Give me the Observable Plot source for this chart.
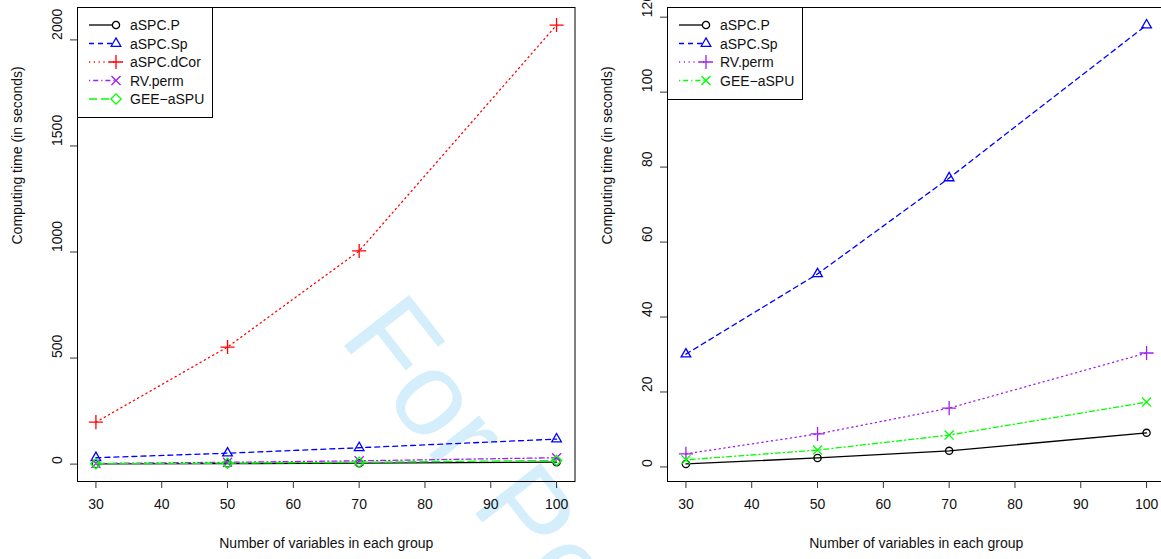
<!DOCTYPE html>
<html>
<head>
<meta charset="utf-8">
<script src="https://cdn.jsdelivr.net/npm/d3@7"></script>
<script src="https://cdn.jsdelivr.net/npm/@observablehq/plot@0.6"></script>
<style>
  html, body { margin: 0; padding: 0; background: #fff; overflow: hidden; }
  #wrap { position: relative; width: 1161px; height: 559px; overflow: hidden; }
  #wm { position: absolute; left: 0; top: 0; }
  .panel { position: absolute; top: 0; width: 580px; height: 559px; }
  .panel svg { max-width: none !important; }
</style>
</head>
<body>
<div id="wrap">
  <svg id="wm" width="1161" height="559"></svg>
  <div id="left" class="panel" style="left:0px"></div>
  <div id="right" class="panel" style="left:590px"></div>
</div>
<script>
// ---- data ----
const xVals = [30, 50, 70, 100];
const xTicks = [30, 40, 50, 60, 70, 80, 90, 100];
const leftYTicks = [0, 500, 1000, 1500, 2000];
const rightYTicks = [0, 20, 40, 60, 80, 100, 120];

const aSPC_P = [0.8, 2.4, 4.3, 9.1];
const aSPC_Sp = [30.1, 51.5, 77.1, 117.9];
const aSPC_dCor = [198, 552, 1005, 2070];
const RV_perm_left = [3.2, 8.5, 15.5, 30];
const GEE_aSPU_left = [1.9, 4.5, 8.5, 17.3];
const RV_perm = [3.5, 8.8, 15.7, 30.4];
const GEE_aSPU = [1.9, 4.5, 8.5, 17.3];

const xLabel = "Number of variables in each group";
const yLabel = "Computing time (in seconds)";

const leftSeries = [
  {name: "aSPC.P", values: aSPC_P, color: "#000000", dash: null, symbol: "circle", r: 3.6},
  {name: "aSPC.Sp", values: aSPC_Sp, color: "#0000FF", dash: "5,4", symbol: "triangle2", r: 4.6},
  {name: "aSPC.dCor", values: aSPC_dCor, color: "#FF0000", dash: "1.2,3.6", symbol: "plus", r: 4.6},
  {name: "RV.perm", values: RV_perm_left, color: "#A020F0", dash: "1.2,3,5,3", symbol: "times", r: 4.2},
  {name: "GEE\u2212aSPU", values: GEE_aSPU_left, color: "#00FF00", dash: "8,4", symbol: "diamond2", r: 4.6}
];
const rightSeries = [
  {name: "aSPC.P", values: aSPC_P, color: "#000000", dash: null, symbol: "circle", r: 3.6},
  {name: "aSPC.Sp", values: aSPC_Sp, color: "#0000FF", dash: "5,4", symbol: "triangle2", r: 4.6},
  {name: "RV.perm", values: RV_perm, color: "#A020F0", dash: "1.2,3.6", symbol: "plus", r: 4.6},
  {name: "GEE\u2212aSPU", values: GEE_aSPU, color: "#00FF00", dash: "1.2,3,5,3", symbol: "times", r: 4.2}
];

const symbolMap = {
  circle: d3.symbolCircle, triangle2: d3.symbolTriangle2, plus: d3.symbolPlus,
  times: d3.symbolTimes, diamond2: d3.symbolDiamond2
};

const FONT = "'Liberation Sans', Arial, Helvetica, sans-serif";
const FS = 14;

function rRange(vals) {
  const mn = d3.min(vals), mx = d3.max(vals);
  const pad = (mx - mn) * 0.04;
  return [mn - pad, mx + pad];
}

function makePanel(series, yTicks, legendH) {
  const rows = series.flatMap(s => s.values.map((v, i) => ({x: xVals[i], y: v, name: s.name})));
  const yDom = rRange(rows.map(d => d.y));
  const xDom = rRange(xVals);
  const marks = [
    Plot.frame({stroke: "#000", strokeWidth: 1}),
    Plot.axisX({ticks: xTicks, tickSize: 7, tickPadding: 11, label: null, fontSize: FS, stroke: "#333", fill: "#111"}),
    Plot.axisY({ticks: yTicks, tickSize: 7, tickFormat: () => "", label: null, stroke: "#333"}),
    Plot.text(yTicks, {y: d => d, text: d => String(d), frameAnchor: "left", dx: -20, rotate: -90, fontSize: FS, fill: "#111"}),
    Plot.text([xLabel], {frameAnchor: "bottom", dy: 66, fontSize: FS, fill: "#111"}),
    Plot.text([yLabel], {frameAnchor: "left", dx: -60, rotate: -90, fontSize: FS, fill: "#111"})
  ];
  for (const s of series) {
    const data = s.values.map((v, i) => ({x: xVals[i], y: v}));
    marks.push(Plot.line(data, {x: "x", y: "y", stroke: s.color, strokeWidth: 1.3, strokeDasharray: s.dash || undefined}));
    marks.push(Plot.dot(data, {x: "x", y: "y", stroke: s.color, fill: "none", symbol: s.symbol, r: s.r, strokeWidth: 1.3}));
  }
  const svg = Plot.plot({
    width: 580, height: 559,
    marginLeft: 77, marginRight: 5.5, marginTop: 7, marginBottom: 78,
    x: {domain: xDom},
    y: {domain: yDom},
    style: {fontFamily: FONT, fontSize: FS + "px", background: "transparent", color: "#111", overflow: "visible", maxWidth: "none"},
    marks
  });
  // legend (R-style box inside top-left)
  const g = d3.select(svg).append("g");
  g.append("rect").attr("x", 77.5).attr("y", 7.5).attr("width", 135).attr("height", legendH)
    .attr("fill", "white").attr("stroke", "#000").attr("stroke-width", 1);
  series.forEach((s, i) => {
    const y = 25 + i * 18.5;
    g.append("line").attr("x1", 89).attr("x2", 116).attr("y1", y).attr("y2", y)
      .attr("stroke", s.color).attr("stroke-width", 1.3).attr("stroke-dasharray", s.dash);
    g.append("path").attr("d", d3.symbol(symbolMap[s.symbol], s.r * s.r * Math.PI)())
      .attr("transform", `translate(116,${y})`).attr("fill", "white").attr("stroke", s.color).attr("stroke-width", 1.3);
    g.append("text").attr("x", 130).attr("y", y).attr("dy", "0.36em").attr("font-size", FS)
      .attr("text-anchor", "start").attr("font-family", FONT)
      .attr("fill", "#111").text(s.name);
  });
  return svg;
}

document.getElementById("left").appendChild(makePanel(leftSeries, leftYTicks, 110));
document.getElementById("right").appendChild(makePanel(rightSeries, rightYTicks, 92));

// watermark
d3.select("#wm").append("text")
  .attr("transform", "translate(338,338) rotate(52)")
  .attr("font-family", FONT)
  .attr("font-size", 120)
  .attr("fill", "#d4eefb")
  .text("For Peer Review");
</script>
</body>
</html>
